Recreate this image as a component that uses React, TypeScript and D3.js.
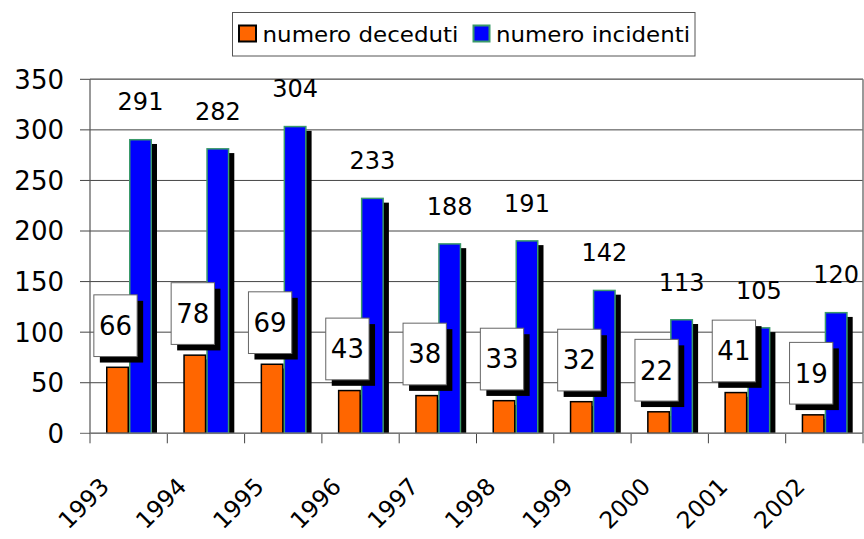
import React from "react";
import * as d3 from "d3";

const categories = ["1993", "1994", "1995", "1996", "1997", "1998", "1999", "2000", "2001", "2002"];
const deceduti = [66, 78, 69, 43, 38, 33, 32, 22, 41, 19];
const incidenti = [291, 282, 304, 233, 188, 191, 142, 113, 105, 120];
const seriesNames = ["numero deceduti", "numero incidenti"];
const yTicks = [0, 50, 100, 150, 200, 250, 300, 350];

const W = 864;
const H = 539;
const plotLeft = 90;
const plotRight = 863;
const plotTop = 79.3;
const plotBottom = 433.3;
const FONT = "DejaVu Sans, sans-serif";
const ORANGE = "#FF6600";
const BLUE = "#0000FF";
const GREEN = "#3A9A6A";

export default function App() {
  const x0 = d3.scaleBand<string>().domain(categories).range([plotLeft, plotRight]).padding(0);
  const x1 = d3.scaleBand<string>().domain(seriesNames).range([16, 62]).padding(0);
  const y = d3.scaleLinear().domain([0, 350]).range([plotBottom, plotTop]);

  const bw = x1.bandwidth();
  const sh = 5;

  return (
    <svg width={W} height={H} style={{ position: "absolute", left: 0, top: 0, background: "#fff" }} fontFamily={FONT}>
      <defs>
        <clipPath id="plotclip">
          <rect x={plotLeft} y={0} width={plotRight - plotLeft + 10} height={plotBottom} />
        </clipPath>
      </defs>
      <rect x={0} y={0} width={W} height={H} fill="#fff" />

      {/* Legend */}
      <rect x={232.5} y={12.5} width={462.5} height={43.5} fill="#fff" stroke="#555" strokeWidth={1} />
      <rect x={239} y={25.5} width={17} height={16} fill={ORANGE} stroke="#000" strokeWidth={2} />
      <text x={262.5} y={41.5} fontSize={21.5} fill="#000" textLength={196} lengthAdjust="spacingAndGlyphs">
        {seriesNames[0]}
      </text>
      <rect x={473.5} y={25.5} width={16} height={16} fill={BLUE} stroke={GREEN} strokeWidth={2} />
      <text x={496} y={41.5} fontSize={21.5} fill="#000" textLength={194} lengthAdjust="spacingAndGlyphs">
        {seriesNames[1]}
      </text>

      {/* Gridlines */}
      {yTicks.map((t) => (
        <line key={"g" + t} x1={plotLeft - 10} x2={plotRight} y1={y(t)} y2={y(t)} stroke={t === 0 ? "#666" : "#444"} strokeWidth={1} />
      ))}
      {/* Plot border */}
      <line x1={plotRight} x2={plotRight} y1={plotTop} y2={plotBottom} stroke="#777" strokeWidth={1.5} />
      <line x1={plotLeft} x2={plotRight} y1={plotTop} y2={plotTop} stroke="#777" strokeWidth={1.5} />
      {/* Y axis */}
      <line x1={plotLeft} x2={plotLeft} y1={plotTop} y2={plotBottom + 0.5} stroke="#555" strokeWidth={1.2} />
      {yTicks.map((t) => (
        <text key={"yl" + t} x={64} y={y(t)} dy="0.36em" textAnchor="end" fontSize={26} fill="#000">
          {t}
        </text>
      ))}

      {/* Shadows */}
      <g clipPath="url(#plotclip)">
        {categories.map((c, i) => (
          <g key={"s" + c}>
            <rect x={(x0(c) as number) + (x1(seriesNames[0]) as number) + sh} y={y(deceduti[i]) + sh} width={bw} height={Math.max(0, plotBottom - y(deceduti[i]))} fill="#000" />
            <rect x={(x0(c) as number) + (x1(seriesNames[1]) as number) + sh} y={y(incidenti[i]) + sh} width={bw} height={Math.max(0, plotBottom - y(incidenti[i]))} fill="#000" />
          </g>
        ))}
      </g>

      {/* Bars */}
      {categories.map((c, i) => {
        const xo = (x0(c) as number) + (x1(seriesNames[0]) as number);
        const xb = (x0(c) as number) + (x1(seriesNames[1]) as number);
        return (
          <g key={"b" + c}>
            <rect x={xo + 0.75} y={y(deceduti[i]) + 0.75} width={bw - 1.5} height={plotBottom - y(deceduti[i]) - 0.75} fill={ORANGE} stroke="#000" strokeWidth={1.5} />
            <rect x={xb + 0.75} y={y(incidenti[i]) + 0.75} width={bw - 1.5} height={plotBottom - y(incidenti[i]) - 0.75} fill={BLUE} stroke={GREEN} strokeWidth={1.5} />
          </g>
        );
      })}

      {/* X axis ticks */}
      {categories.concat(["end"]).map((c, i) => {
        const xx = i < categories.length ? (x0(c) as number) : plotRight;
        return <line key={"xt" + i} x1={xx} x2={xx} y1={plotBottom} y2={plotBottom + 10} stroke="#444" strokeWidth={1} />;
      })}
      <line x1={plotLeft} x2={plotRight} y1={plotBottom} y2={plotBottom} stroke="#777" strokeWidth={1.5} />

      {/* Year labels */}
      {categories.map((c) => {
        const cx = (x0(c) as number) + x0.bandwidth() / 2 - 18;
        const cy = 488;
        return (
          <text key={"xl" + c} x={cx} y={cy} textAnchor="end" fontSize={23.5} fill="#000" transform={`rotate(-45 ${cx} ${cy})`}>
            {c}
          </text>
        );
      })}

      {/* Blue labels */}
      {categories.map((c, i) => {
        const xb = (x0(c) as number) + (x1(seriesNames[1]) as number) + bw / 2;
        return (
          <text key={"bl" + c} x={xb} y={y(incidenti[i]) - 28.5} textAnchor="middle" fontSize={24} fill="#000">
            {incidenti[i]}
          </text>
        );
      })}

      {/* Orange label boxes */}
      {categories.map((c, i) => {
        const xo = (x0(c) as number) + (x1(seriesNames[0]) as number) + bw / 2 - 2;
        const bwBox = 43.3;
        const bhBox = 61.7;
        const bottom = y(deceduti[i]) - 10;
        const left = xo - bwBox / 2;
        const top = bottom - bhBox;
        return (
          <g key={"ol" + c}>
            <rect x={left + 6} y={top + 6} width={bwBox} height={bhBox} fill="#000" />
            <rect x={left} y={top} width={bwBox} height={bhBox} fill="#fff" stroke="#666" strokeWidth={1} />
            <text x={xo} y={top + bhBox / 2} dy="0.36em" textAnchor="middle" fontSize={26} fill="#000">
              {deceduti[i]}
            </text>
          </g>
        );
      })}
    </svg>
  );
}
